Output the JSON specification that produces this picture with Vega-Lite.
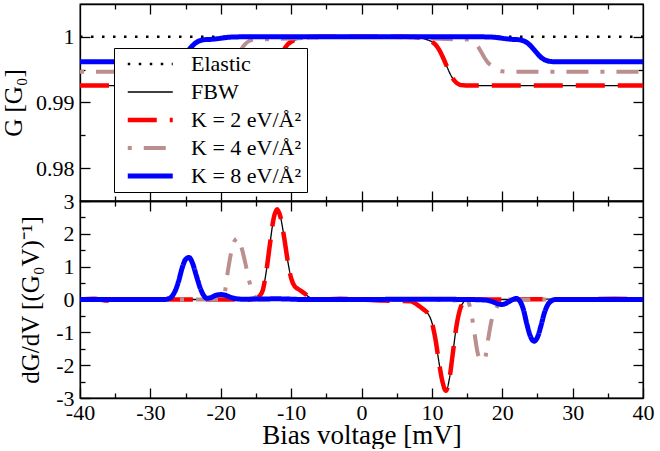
{
  "$schema": "https://vega.github.io/schema/vega-lite/v6.json",
  "padding": {"left": 0, "top": 2, "right": 14, "bottom": 0},
  "bounds": "flush",
  "config": {
    "font": "Liberation Serif",
    "view": {"stroke": "black", "strokeWidth": 1.3},
    "concat": {"spacing": 0},
    "axis": {
      "grid": false, "domainColor": "black", "domainWidth": 1.3,
      "tickColor": "black", "tickWidth": 1.3,
      "labelFont": "Liberation Serif", "labelFontSize": 22, "labelColor": "black",
      "titleFont": "Liberation Serif", "titleFontSize": 25, "titleFontWeight": "normal", "titleColor": "black",
      "labelOverlap": false, "labelFlush": false
    }
  },
  "datasets": {
    "g": [
      {"s": "E", "v": -40, "y": 1}, {"s": "E", "v": 40, "y": 1},
      {"s": "F", "v": -40, "y": 0.99258}, {"s": "F", "v": -15, "y": 0.99258}, {"s": "F", "v": -14.5, "y": 0.99261}, {"s": "F", "v": -14, "y": 0.9927}, {"s": "F", "v": -13.5, "y": 0.99299}, {"s": "F", "v": -13, "y": 0.9936}, {"s": "F", "v": -12.5, "y": 0.99458}, {"s": "F", "v": -12, "y": 0.99581}, {"s": "F", "v": -11.5, "y": 0.99705}, {"s": "F", "v": -11, "y": 0.99808}, {"s": "F", "v": -10.5, "y": 0.99882}, {"s": "F", "v": -10, "y": 0.99925}, {"s": "F", "v": -9.5, "y": 0.9995}, {"s": "F", "v": -9, "y": 0.99967}, {"s": "F", "v": -8.5, "y": 0.9998}, {"s": "F", "v": -8, "y": 0.9999}, {"s": "F", "v": -7.5, "y": 0.99996}, {"s": "F", "v": -7, "y": 0.99999}, {"s": "F", "v": -6, "y": 1}, {"s": "F", "v": 6, "y": 1}, {"s": "F", "v": 7, "y": 0.99999}, {"s": "F", "v": 7.5, "y": 0.99996}, {"s": "F", "v": 8, "y": 0.9999}, {"s": "F", "v": 8.5, "y": 0.9998}, {"s": "F", "v": 9, "y": 0.99967}, {"s": "F", "v": 9.5, "y": 0.9995}, {"s": "F", "v": 10, "y": 0.99925}, {"s": "F", "v": 10.5, "y": 0.99882}, {"s": "F", "v": 11, "y": 0.99808}, {"s": "F", "v": 11.5, "y": 0.99705}, {"s": "F", "v": 12, "y": 0.99581}, {"s": "F", "v": 12.5, "y": 0.99458}, {"s": "F", "v": 13, "y": 0.9936}, {"s": "F", "v": 13.5, "y": 0.99299}, {"s": "F", "v": 14, "y": 0.9927}, {"s": "F", "v": 14.5, "y": 0.99261}, {"s": "F", "v": 15, "y": 0.99258}, {"s": "F", "v": 40, "y": 0.99258},
      {"s": "K2", "v": -40, "y": 0.99258}, {"s": "K2", "v": -15, "y": 0.99258}, {"s": "K2", "v": -14.5, "y": 0.99261}, {"s": "K2", "v": -14, "y": 0.9927}, {"s": "K2", "v": -13.5, "y": 0.99299}, {"s": "K2", "v": -13, "y": 0.9936}, {"s": "K2", "v": -12.5, "y": 0.99458}, {"s": "K2", "v": -12, "y": 0.99581}, {"s": "K2", "v": -11.5, "y": 0.99705}, {"s": "K2", "v": -11, "y": 0.99808}, {"s": "K2", "v": -10.5, "y": 0.99882}, {"s": "K2", "v": -10, "y": 0.99925}, {"s": "K2", "v": -9.5, "y": 0.9995}, {"s": "K2", "v": -9, "y": 0.99967}, {"s": "K2", "v": -8.5, "y": 0.9998}, {"s": "K2", "v": -8, "y": 0.9999}, {"s": "K2", "v": -7.5, "y": 0.99996}, {"s": "K2", "v": -7, "y": 0.99999}, {"s": "K2", "v": -6, "y": 1}, {"s": "K2", "v": 6, "y": 1}, {"s": "K2", "v": 7, "y": 0.99999}, {"s": "K2", "v": 7.5, "y": 0.99996}, {"s": "K2", "v": 8, "y": 0.9999}, {"s": "K2", "v": 8.5, "y": 0.9998}, {"s": "K2", "v": 9, "y": 0.99967}, {"s": "K2", "v": 9.5, "y": 0.9995}, {"s": "K2", "v": 10, "y": 0.99925}, {"s": "K2", "v": 10.5, "y": 0.99882}, {"s": "K2", "v": 11, "y": 0.99808}, {"s": "K2", "v": 11.5, "y": 0.99705}, {"s": "K2", "v": 12, "y": 0.99581}, {"s": "K2", "v": 12.5, "y": 0.99458}, {"s": "K2", "v": 13, "y": 0.9936}, {"s": "K2", "v": 13.5, "y": 0.99299}, {"s": "K2", "v": 14, "y": 0.9927}, {"s": "K2", "v": 14.5, "y": 0.99261}, {"s": "K2", "v": 15, "y": 0.99258}, {"s": "K2", "v": 40, "y": 0.99258},
      {"s": "K4", "v": -40, "y": 0.9947}, {"s": "K4", "v": -20.5, "y": 0.9947}, {"s": "K4", "v": -20, "y": 0.99472}, {"s": "K4", "v": -19.5, "y": 0.9948}, {"s": "K4", "v": -19, "y": 0.99505}, {"s": "K4", "v": -18.5, "y": 0.99563}, {"s": "K4", "v": -18, "y": 0.99645}, {"s": "K4", "v": -17.5, "y": 0.9974}, {"s": "K4", "v": -17, "y": 0.99825}, {"s": "K4", "v": -16.5, "y": 0.99892}, {"s": "K4", "v": -16, "y": 0.99935}, {"s": "K4", "v": -15.5, "y": 0.99955}, {"s": "K4", "v": -15, "y": 0.9996}, {"s": "K4", "v": -14, "y": 0.99962}, {"s": "K4", "v": -12, "y": 0.99967}, {"s": "K4", "v": -10, "y": 0.99975}, {"s": "K4", "v": -8, "y": 0.99985}, {"s": "K4", "v": -6, "y": 0.99993}, {"s": "K4", "v": -4, "y": 0.99998}, {"s": "K4", "v": -2, "y": 1}, {"s": "K4", "v": 2, "y": 1}, {"s": "K4", "v": 4, "y": 0.99998}, {"s": "K4", "v": 6, "y": 0.99993}, {"s": "K4", "v": 8, "y": 0.99985}, {"s": "K4", "v": 10, "y": 0.99975}, {"s": "K4", "v": 12, "y": 0.99967}, {"s": "K4", "v": 14, "y": 0.99962}, {"s": "K4", "v": 15, "y": 0.9996}, {"s": "K4", "v": 15.5, "y": 0.99952}, {"s": "K4", "v": 16, "y": 0.99922}, {"s": "K4", "v": 16.5, "y": 0.99858}, {"s": "K4", "v": 17, "y": 0.99772}, {"s": "K4", "v": 17.5, "y": 0.99678}, {"s": "K4", "v": 18, "y": 0.99603}, {"s": "K4", "v": 18.5, "y": 0.99558}, {"s": "K4", "v": 19, "y": 0.99513}, {"s": "K4", "v": 19.5, "y": 0.99488}, {"s": "K4", "v": 20, "y": 0.99475}, {"s": "K4", "v": 20.5, "y": 0.9947}, {"s": "K4", "v": 40, "y": 0.9947},
      {"s": "K8", "v": -40, "y": 0.99621}, {"s": "K8", "v": -27.5, "y": 0.99621}, {"s": "K8", "v": -27, "y": 0.99624}, {"s": "K8", "v": -26.5, "y": 0.99632}, {"s": "K8", "v": -26, "y": 0.99652}, {"s": "K8", "v": -25.5, "y": 0.99689}, {"s": "K8", "v": -25, "y": 0.99744}, {"s": "K8", "v": -24.5, "y": 0.99806}, {"s": "K8", "v": -24, "y": 0.99866}, {"s": "K8", "v": -23.5, "y": 0.99912}, {"s": "K8", "v": -23, "y": 0.9994}, {"s": "K8", "v": -22.5, "y": 0.99954}, {"s": "K8", "v": -22, "y": 0.99959}, {"s": "K8", "v": -21.5, "y": 0.99961}, {"s": "K8", "v": -21, "y": 0.99965}, {"s": "K8", "v": -20.5, "y": 0.99971}, {"s": "K8", "v": -20, "y": 0.99978}, {"s": "K8", "v": -19.5, "y": 0.99986}, {"s": "K8", "v": -19, "y": 0.99992}, {"s": "K8", "v": -18.5, "y": 0.99996}, {"s": "K8", "v": -18, "y": 0.99998}, {"s": "K8", "v": -17, "y": 1}, {"s": "K8", "v": 17, "y": 1}, {"s": "K8", "v": 18, "y": 0.99998}, {"s": "K8", "v": 18.5, "y": 0.99996}, {"s": "K8", "v": 19, "y": 0.99992}, {"s": "K8", "v": 19.5, "y": 0.99986}, {"s": "K8", "v": 20, "y": 0.99978}, {"s": "K8", "v": 20.5, "y": 0.99971}, {"s": "K8", "v": 21, "y": 0.99965}, {"s": "K8", "v": 21.5, "y": 0.99961}, {"s": "K8", "v": 22, "y": 0.99959}, {"s": "K8", "v": 22.5, "y": 0.99954}, {"s": "K8", "v": 23, "y": 0.9994}, {"s": "K8", "v": 23.5, "y": 0.99912}, {"s": "K8", "v": 24, "y": 0.99866}, {"s": "K8", "v": 24.5, "y": 0.99806}, {"s": "K8", "v": 25, "y": 0.99744}, {"s": "K8", "v": 25.5, "y": 0.99689}, {"s": "K8", "v": 26, "y": 0.99652}, {"s": "K8", "v": 26.5, "y": 0.99632}, {"s": "K8", "v": 27, "y": 0.99624}, {"s": "K8", "v": 27.5, "y": 0.99621}, {"s": "K8", "v": 40, "y": 0.99621}
    ],
    "dg": [
      {"s": "E", "v": -40, "y": 0}, {"s": "E", "v": 40, "y": 0},
      {"s": "F", "v": -40, "y": 0}, {"s": "F", "v": -38, "y": 0.02}, {"s": "F", "v": -36, "y": -0.03}, {"s": "F", "v": -34, "y": 0}, {"s": "F", "v": -30, "y": 0.01}, {"s": "F", "v": -26, "y": 0}, {"s": "F", "v": -20, "y": 0}, {"s": "F", "v": -16, "y": 0}, {"s": "F", "v": -15, "y": 0.02}, {"s": "F", "v": -14.5, "y": 0.1}, {"s": "F", "v": -14, "y": 0.3}, {"s": "F", "v": -13.5, "y": 0.9}, {"s": "F", "v": -13, "y": 1.7}, {"s": "F", "v": -12.5, "y": 2.45}, {"s": "F", "v": -12, "y": 2.75}, {"s": "F", "v": -11.5, "y": 2.5}, {"s": "F", "v": -11, "y": 1.9}, {"s": "F", "v": -10.5, "y": 1.2}, {"s": "F", "v": -10, "y": 0.65}, {"s": "F", "v": -9.5, "y": 0.4}, {"s": "F", "v": -9, "y": 0.32}, {"s": "F", "v": -8.5, "y": 0.25}, {"s": "F", "v": -8, "y": 0.17}, {"s": "F", "v": -7.5, "y": 0.08}, {"s": "F", "v": -7, "y": 0.03}, {"s": "F", "v": -6, "y": 0}, {"s": "F", "v": -3, "y": 0.02}, {"s": "F", "v": 0, "y": 0}, {"s": "F", "v": 3, "y": -0.03}, {"s": "F", "v": 5, "y": -0.04}, {"s": "F", "v": 7, "y": -0.05}, {"s": "F", "v": 7.5, "y": -0.1}, {"s": "F", "v": 8, "y": -0.17}, {"s": "F", "v": 8.5, "y": -0.25}, {"s": "F", "v": 9, "y": -0.33}, {"s": "F", "v": 9.5, "y": -0.45}, {"s": "F", "v": 10, "y": -0.7}, {"s": "F", "v": 10.5, "y": -1.2}, {"s": "F", "v": 11, "y": -1.9}, {"s": "F", "v": 11.5, "y": -2.5}, {"s": "F", "v": 12, "y": -2.78}, {"s": "F", "v": 12.5, "y": -2.4}, {"s": "F", "v": 13, "y": -1.6}, {"s": "F", "v": 13.5, "y": -0.8}, {"s": "F", "v": 14, "y": -0.3}, {"s": "F", "v": 14.5, "y": -0.08}, {"s": "F", "v": 15, "y": 0}, {"s": "F", "v": 20, "y": 0}, {"s": "F", "v": 26, "y": 0.01}, {"s": "F", "v": 30, "y": 0}, {"s": "F", "v": 36, "y": 0.02}, {"s": "F", "v": 40, "y": 0},
      {"s": "K2", "v": -40, "y": 0}, {"s": "K2", "v": -38, "y": 0.02}, {"s": "K2", "v": -36, "y": -0.03}, {"s": "K2", "v": -34, "y": 0}, {"s": "K2", "v": -30, "y": 0.01}, {"s": "K2", "v": -26, "y": 0}, {"s": "K2", "v": -20, "y": 0}, {"s": "K2", "v": -16, "y": 0}, {"s": "K2", "v": -15, "y": 0.02}, {"s": "K2", "v": -14.5, "y": 0.1}, {"s": "K2", "v": -14, "y": 0.3}, {"s": "K2", "v": -13.5, "y": 0.9}, {"s": "K2", "v": -13, "y": 1.7}, {"s": "K2", "v": -12.5, "y": 2.45}, {"s": "K2", "v": -12, "y": 2.75}, {"s": "K2", "v": -11.5, "y": 2.5}, {"s": "K2", "v": -11, "y": 1.9}, {"s": "K2", "v": -10.5, "y": 1.2}, {"s": "K2", "v": -10, "y": 0.65}, {"s": "K2", "v": -9.5, "y": 0.4}, {"s": "K2", "v": -9, "y": 0.32}, {"s": "K2", "v": -8.5, "y": 0.25}, {"s": "K2", "v": -8, "y": 0.17}, {"s": "K2", "v": -7.5, "y": 0.08}, {"s": "K2", "v": -7, "y": 0.03}, {"s": "K2", "v": -6, "y": 0}, {"s": "K2", "v": -3, "y": 0.02}, {"s": "K2", "v": 0, "y": 0}, {"s": "K2", "v": 3, "y": -0.03}, {"s": "K2", "v": 5, "y": -0.04}, {"s": "K2", "v": 7, "y": -0.05}, {"s": "K2", "v": 7.5, "y": -0.1}, {"s": "K2", "v": 8, "y": -0.17}, {"s": "K2", "v": 8.5, "y": -0.25}, {"s": "K2", "v": 9, "y": -0.33}, {"s": "K2", "v": 9.5, "y": -0.45}, {"s": "K2", "v": 10, "y": -0.7}, {"s": "K2", "v": 10.5, "y": -1.2}, {"s": "K2", "v": 11, "y": -1.9}, {"s": "K2", "v": 11.5, "y": -2.5}, {"s": "K2", "v": 12, "y": -2.78}, {"s": "K2", "v": 12.5, "y": -2.4}, {"s": "K2", "v": 13, "y": -1.6}, {"s": "K2", "v": 13.5, "y": -0.8}, {"s": "K2", "v": 14, "y": -0.3}, {"s": "K2", "v": 14.5, "y": -0.08}, {"s": "K2", "v": 15, "y": 0}, {"s": "K2", "v": 20, "y": 0}, {"s": "K2", "v": 26, "y": 0.01}, {"s": "K2", "v": 30, "y": 0}, {"s": "K2", "v": 36, "y": 0.02}, {"s": "K2", "v": 40, "y": 0},
      {"s": "K4", "v": -40, "y": 0}, {"s": "K4", "v": -21, "y": 0}, {"s": "K4", "v": -20, "y": 0.02}, {"s": "K4", "v": -19.5, "y": 0.15}, {"s": "K4", "v": -19, "y": 0.85}, {"s": "K4", "v": -18.5, "y": 1.45}, {"s": "K4", "v": -18, "y": 1.8}, {"s": "K4", "v": -17.5, "y": 1.87}, {"s": "K4", "v": -17, "y": 1.55}, {"s": "K4", "v": -16.5, "y": 1.1}, {"s": "K4", "v": -16, "y": 0.6}, {"s": "K4", "v": -15.5, "y": 0.25}, {"s": "K4", "v": -15, "y": 0.05}, {"s": "K4", "v": -14.5, "y": 0}, {"s": "K4", "v": -11, "y": 0.03}, {"s": "K4", "v": -9, "y": 0}, {"s": "K4", "v": 9, "y": 0}, {"s": "K4", "v": 13, "y": -0.03}, {"s": "K4", "v": 14.5, "y": 0}, {"s": "K4", "v": 15, "y": -0.02}, {"s": "K4", "v": 15.5, "y": -0.3}, {"s": "K4", "v": 16, "y": -0.95}, {"s": "K4", "v": 16.5, "y": -1.62}, {"s": "K4", "v": 17, "y": -1.86}, {"s": "K4", "v": 17.5, "y": -1.82}, {"s": "K4", "v": 18, "y": -1.2}, {"s": "K4", "v": 18.5, "y": -0.62}, {"s": "K4", "v": 19, "y": -0.35}, {"s": "K4", "v": 19.5, "y": -0.12}, {"s": "K4", "v": 20, "y": -0.02}, {"s": "K4", "v": 20.5, "y": 0}, {"s": "K4", "v": 40, "y": 0},
      {"s": "K8", "v": -40, "y": 0}, {"s": "K8", "v": -28, "y": 0}, {"s": "K8", "v": -27.5, "y": 0.02}, {"s": "K8", "v": -27, "y": 0.08}, {"s": "K8", "v": -26.5, "y": 0.25}, {"s": "K8", "v": -26, "y": 0.55}, {"s": "K8", "v": -25.5, "y": 0.95}, {"s": "K8", "v": -25, "y": 1.22}, {"s": "K8", "v": -24.5, "y": 1.28}, {"s": "K8", "v": -24, "y": 1.1}, {"s": "K8", "v": -23.5, "y": 0.75}, {"s": "K8", "v": -23, "y": 0.4}, {"s": "K8", "v": -22.5, "y": 0.15}, {"s": "K8", "v": -22, "y": 0.04}, {"s": "K8", "v": -21.5, "y": 0.05}, {"s": "K8", "v": -21, "y": 0.1}, {"s": "K8", "v": -20.5, "y": 0.14}, {"s": "K8", "v": -20, "y": 0.15}, {"s": "K8", "v": -19.5, "y": 0.14}, {"s": "K8", "v": -19, "y": 0.1}, {"s": "K8", "v": -18.5, "y": 0.06}, {"s": "K8", "v": -18, "y": 0.03}, {"s": "K8", "v": -17, "y": 0.01}, {"s": "K8", "v": -12, "y": 0.02}, {"s": "K8", "v": -8, "y": 0}, {"s": "K8", "v": 0, "y": 0}, {"s": "K8", "v": 8, "y": 0.01}, {"s": "K8", "v": 15, "y": 0}, {"s": "K8", "v": 17, "y": -0.01}, {"s": "K8", "v": 18, "y": -0.03}, {"s": "K8", "v": 18.5, "y": -0.06}, {"s": "K8", "v": 19, "y": -0.1}, {"s": "K8", "v": 19.5, "y": -0.14}, {"s": "K8", "v": 20, "y": -0.15}, {"s": "K8", "v": 20.5, "y": -0.12}, {"s": "K8", "v": 21, "y": -0.06}, {"s": "K8", "v": 21.5, "y": 0}, {"s": "K8", "v": 22, "y": 0.03}, {"s": "K8", "v": 22.5, "y": -0.05}, {"s": "K8", "v": 23, "y": -0.3}, {"s": "K8", "v": 23.5, "y": -0.75}, {"s": "K8", "v": 24, "y": -1.12}, {"s": "K8", "v": 24.5, "y": -1.27}, {"s": "K8", "v": 25, "y": -1.15}, {"s": "K8", "v": 25.5, "y": -0.8}, {"s": "K8", "v": 26, "y": -0.4}, {"s": "K8", "v": 26.5, "y": -0.15}, {"s": "K8", "v": 27, "y": -0.04}, {"s": "K8", "v": 27.5, "y": 0}, {"s": "K8", "v": 40, "y": 0}
    ]
  },
  "resolve": {"scale": {"color": "independent", "strokeDash": "independent", "strokeWidth": "independent"}},
  "vconcat": [
    {
      "width": 563,
      "height": 197,
      "data": {"name": "g"},
      "resolve": {"axis": {"x": "independent", "y": "independent"}},
      "layer": [
        {
          "mark": {"type": "line", "interpolate": "monotone", "clip": true},
          "encoding": {
            "x": {"field": "v", "type": "quantitative", "scale": {"domain": [-40, 40], "nice": false},
              "axis": {"orient": "bottom", "labels": false, "title": null,
                "values": [-35, -30, -25, -20, -15, -10, -5, 0, 5, 10, 15, 20, 25, 30, 35],
                "tickSize": {"condition": {"test": "datum.value % 10 === 0", "value": -10}, "value": -5}}},
            "y": {"field": "y", "type": "quantitative", "scale": {"domain": [0.975, 1.005], "nice": false, "zero": false},
              "axis": {"title": "G [G₀]", "titlePadding": 9,
                "values": [0.98, 0.985, 0.99, 0.995, 1],
                "labelExpr": "abs(datum.value * 100 - round(datum.value * 100)) < 0.001 ? format(datum.value, '~g') : ''",
                "tickSize": {"condition": {"test": "abs(datum.value * 100 - round(datum.value * 100)) < 0.001", "value": -10}, "value": -5},
                "labelPadding": 16}},
            "color": {"field": "s", "type": "nominal",
              "scale": {"domain": ["E", "F", "K2", "K4", "K8"], "range": ["#000000", "#000000", "#ff0000", "#bc8f8f", "#0000ff"]},
              "legend": {"orient": "none", "legendX": 34, "legendY": 44, "title": null,
                "symbolType": "M-0.5,0H9.5", "symbolSize": 81, "labelFont": "Liberation Serif", "labelFontSize": 22, "labelColor": "black",
                "labelExpr": "datum.label == 'E' ? 'Elastic' : datum.label == 'F' ? 'FBW' : datum.label == 'K2' ? 'K = 2 eV/Å²' : datum.label == 'K4' ? 'K = 4 eV/Å²' : 'K = 8 eV/Å²'",
                "strokeColor": "black", "fillColor": "white", "padding": 5, "rowPadding": 6, "labelOffset": 50, "labelLimit": 300}},
            "strokeDash": {"field": "s", "type": "nominal",
              "scale": {"domain": ["E", "F", "K2", "K4", "K8"], "range": [[2.5, 8.5], [1, 0], [29, 13], [4, 12, 22, 12], [1, 0]]}},
            "strokeWidth": {"field": "s", "type": "nominal",
              "scale": {"type": "ordinal", "domain": ["E", "F", "K2", "K4", "K8"], "range": [2.5, 1.3, 4.5, 4, 5]}}
          }
        },
        {
          "mark": {"type": "line", "opacity": 0},
          "encoding": {
            "x": {"field": "v", "type": "quantitative", "scale": {"domain": [-40, 40], "nice": false},
              "axis": {"orient": "top", "labels": false, "title": null,
                "values": [-35, -30, -25, -20, -15, -10, -5, 0, 5, 10, 15, 20, 25, 30, 35],
                "tickSize": {"condition": {"test": "datum.value % 10 === 0", "value": -10}, "value": -5}}},
            "y": {"field": "y", "type": "quantitative", "scale": {"domain": [0.975, 1.005], "nice": false, "zero": false},
              "axis": {"orient": "right", "labels": false, "title": null,
                "values": [0.98, 0.985, 0.99, 0.995, 1],
                "tickSize": {"condition": {"test": "abs(datum.value * 100 - round(datum.value * 100)) < 0.001", "value": -10}, "value": -5}}}
          }
        }
      ]
    },
    {
      "width": 563,
      "height": 197,
      "data": {"name": "dg"},
      "resolve": {"axis": {"x": "independent", "y": "independent"}},
      "layer": [
        {
          "mark": {"type": "line", "interpolate": "monotone", "clip": true},
          "encoding": {
            "x": {"field": "v", "type": "quantitative", "scale": {"domain": [-40, 40], "nice": false},
              "axis": {"orient": "bottom", "title": "Bias voltage [mV]", "titlePadding": -6, "titleFontSize": 27,
                "values": [-40, -35, -30, -25, -20, -15, -10, -5, 0, 5, 10, 15, 20, 25, 30, 35, 40],
                "labelExpr": "datum.value % 10 === 0 ? '' + datum.value : ''",
                "tickSize": {"condition": {"test": "datum.value % 10 === 0", "value": -10}, "value": -5},
                "labelPadding": 14}},
            "y": {"field": "y", "type": "quantitative", "scale": {"domain": [-3, 3], "nice": false},
              "axis": {"title": "dG/dV [(G₀V)⁻¹]", "titlePadding": 12,
                "values": [-3, -2.5, -2, -1.5, -1, -0.5, 0, 0.5, 1, 1.5, 2, 2.5, 3],
                "labelExpr": "datum.value % 1 === 0 ? '' + datum.value : ''",
                "tickSize": {"condition": {"test": "datum.value % 1 === 0", "value": -10}, "value": -5},
                "labelPadding": 16}},
            "color": {"field": "s", "type": "nominal",
              "scale": {"domain": ["E", "F", "K2", "K4", "K8"], "range": ["#000000", "#000000", "#ff0000", "#bc8f8f", "#0000ff"]},
              "legend": null},
            "strokeDash": {"field": "s", "type": "nominal",
              "scale": {"domain": ["E", "F", "K2", "K4", "K8"], "range": [[2.5, 8.5], [1, 0], [29, 13], [4, 12, 22, 12], [1, 0]]},
              "legend": null},
            "strokeWidth": {"field": "s", "type": "nominal",
              "scale": {"type": "ordinal", "domain": ["E", "F", "K2", "K4", "K8"], "range": [2.5, 1.3, 4.5, 4, 5]},
              "legend": null}
          }
        },
        {
          "mark": {"type": "line", "opacity": 0},
          "encoding": {
            "x": {"field": "v", "type": "quantitative", "scale": {"domain": [-40, 40], "nice": false},
              "axis": {"orient": "top", "labels": false, "title": null,
                "values": [-35, -30, -25, -20, -15, -10, -5, 0, 5, 10, 15, 20, 25, 30, 35],
                "tickSize": {"condition": {"test": "datum.value % 10 === 0", "value": -10}, "value": -5}}},
            "y": {"field": "y", "type": "quantitative", "scale": {"domain": [-3, 3], "nice": false},
              "axis": {"orient": "right", "labels": false, "title": null,
                "values": [-2.5, -2, -1.5, -1, -0.5, 0, 0.5, 1, 1.5, 2, 2.5],
                "tickSize": {"condition": {"test": "datum.value % 1 === 0", "value": -10}, "value": -5}}}
          }
        }
      ]
    }
  ]
}
